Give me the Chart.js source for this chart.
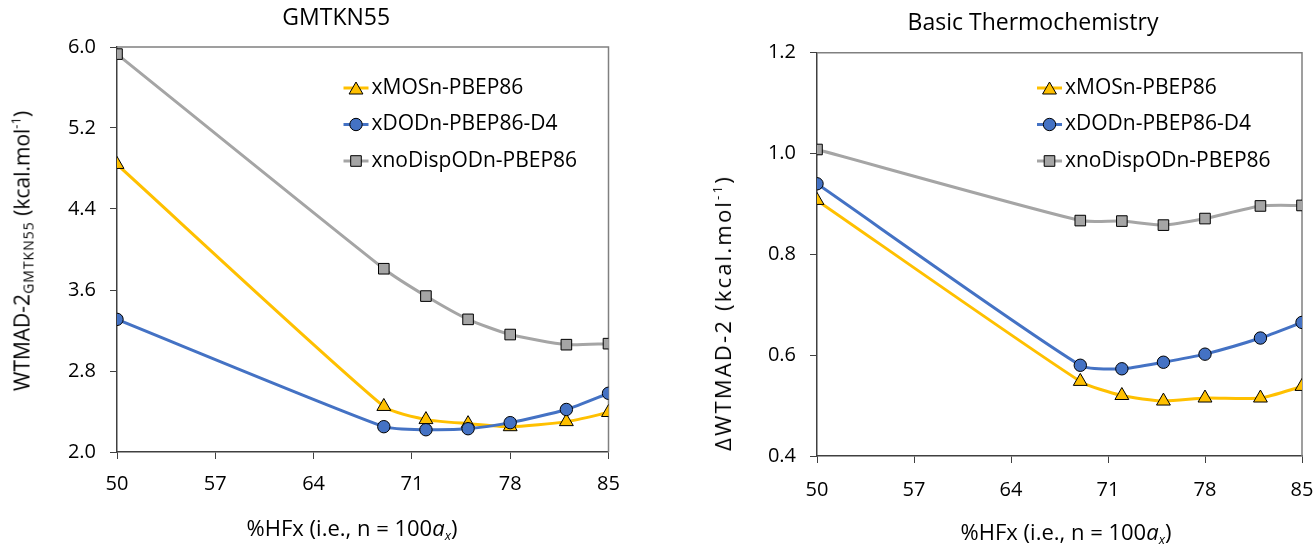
<!DOCTYPE html>
<html>
<head>
<meta charset="utf-8">
<script src="https://cdn.jsdelivr.net/npm/chart.js@4/dist/chart.umd.min.js"></script>
<style>
  html, body { margin: 0; padding: 0; background: #fff; }
  #wrap { position: relative; width: 1315px; height: 549px; overflow: hidden; font-family: "Open Sans", sans-serif; color: #000; }
  .box { position: absolute; top: 0; height: 549px; }
  .lbl { position: absolute; white-space: nowrap; font-size: 21px; line-height: 1; }
  .rot { transform: translate(-50%, -50%) rotate(-90deg); }
  .hor { transform: translate(-50%, -50%); font-size: 22px; }
  sub.s1 { font-size: 14px; letter-spacing: 1px; vertical-align: -4px; line-height: 0; }
  sup.s2 { font-size: 13px; vertical-align: 9px; line-height: 0; }
  sub.s3 { font-size: 13px; vertical-align: -4px; line-height: 0; font-style: italic; }
</style>
</head>
<body>
<div id="wrap">
  <div class="box" style="left:0;width:680px;"><canvas id="c1"></canvas></div>
  <div class="box" style="left:680px;width:635px;"><canvas id="c2"></canvas></div>
  <div class="lbl rot" style="left:22px;top:251px;">WTMAD-2<sub class="s1">GMTKN55</sub> (kcal.mol<sup class="s2">-1</sup>)</div>
  <div class="lbl rot" style="left:722px;top:313px;font-size:22px;letter-spacing:2.2px;">ΔWTMAD-2 (kcal.mol<sup class="s2">-1</sup>)</div>
  <div class="lbl hor" style="left:352px;top:527px;">%HFx (i.e., n = 100<i>a</i><sub class="s3">x</sub>)</div>
  <div class="lbl hor" style="left:1066px;top:531px;">%HFx (i.e., n = 100<i>a</i><sub class="s3">x</sub>)</div>
</div>
<script>
// ---- data ----
const hfx = [50, 69, 72, 75, 78, 82, 85];
const seriesNames = ['xMOSn-PBEP86', 'xDODn-PBEP86-D4', 'xnoDispODn-PBEP86'];

const gmtkn_xMOSn = [4.84, 2.45, 2.32, 2.28, 2.25, 2.30, 2.39];
const gmtkn_xDODn = [3.31, 2.25, 2.22, 2.23, 2.29, 2.42, 2.58];
const gmtkn_xnoDisp = [5.93, 3.81, 3.54, 3.31, 3.16, 3.06, 3.07];

const thermo_xMOSn = [0.907, 0.548, 0.520, 0.509, 0.515, 0.515, 0.538];
const thermo_xDODn = [0.940, 0.580, 0.573, 0.586, 0.602, 0.634, 0.665];
const thermo_xnoDisp = [1.008, 0.867, 0.866, 0.858, 0.871, 0.896, 0.897];

const xTicksMin = 50, xTicksMax = 85, xTickStep = 7;
const gmtknYTicks = { min: 2.0, max: 6.0, step: 0.8 };
const thermoYTicks = { min: 0.4, max: 1.2, step: 0.2 };

// ---- styles ----
const COLORS = ['#FFC000', '#4472C4', '#A5A5A5'];
const STYLES = ['triangle', 'circle', 'rect'];
const RADII = [8, 6.2, 7.5];
const ORDERS = [2, 1, 3];
const FONT = '"Open Sans", sans-serif';
const AXIS_COLOR = '#404040';

function makeDatasets(arrs) {
  return arrs.map((vals, i) => ({
    label: seriesNames[i],
    data: hfx.map((x, k) => ({ x: x, y: vals[k] })),
    borderColor: COLORS[i],
    backgroundColor: COLORS[i],
    borderWidth: 3,
    pointStyle: STYLES[i],
    pointRadius: RADII[i],
    pointHoverRadius: RADII[i],
    pointBackgroundColor: COLORS[i],
    pointBorderColor: '#000',
    pointBorderWidth: 1,
    tension: 0.2,
    order: ORDERS[i],
    fill: false
  }));
}

const framePlugin = {
  id: 'frame',
  beforeDatasetsDraw(chart) {
    const { ctx, chartArea: a } = chart;
    ctx.save();
    ctx.strokeStyle = '#808080';
    ctx.lineWidth = 1.5;
    ctx.beginPath();
    ctx.moveTo(a.left, a.top);
    ctx.lineTo(a.right, a.top);
    ctx.lineTo(a.right, a.bottom);
    ctx.stroke();
    ctx.restore();
  }
};

const legendPlugin = {
  id: 'insideLegend',
  afterDatasetsDraw(chart, args, opts) {
    const { ctx, chartArea: a } = chart;
    const x0 = a.right - opts.offsetRight;
    ctx.save();
    chart.data.datasets.forEach((ds, i) => {
      const y = opts.ys[i];
      ctx.strokeStyle = ds.borderColor;
      ctx.lineWidth = 3;
      ctx.beginPath();
      ctx.moveTo(x0, y);
      ctx.lineTo(x0 + 25, y);
      ctx.stroke();
      ctx.fillStyle = ds.pointBackgroundColor;
      ctx.strokeStyle = ds.pointBorderColor;
      ctx.lineWidth = 1;
      Chart.helpers.drawPoint(ctx, { pointStyle: ds.pointStyle, radius: ds.pointRadius, borderWidth: 1, rotation: 0 }, x0 + 12.5, y + (ds.pointStyle === 'triangle' ? 2 : 0));
      ctx.fillStyle = '#000';
      ctx.font = '21px ' + FONT;
      ctx.textBaseline = 'middle';
      ctx.textAlign = 'left';
      ctx.fillText(ds.label, x0 + 28, y);
    });
    ctx.restore();
  }
};

function makeChart(id, title, arrs, yt, cfg) {
  return new Chart(document.getElementById(id), {
    type: 'line',
    data: { datasets: makeDatasets(arrs) },
    plugins: [framePlugin, legendPlugin],
    options: {
      responsive: true,
      maintainAspectRatio: false,
      animation: false,
      events: [],
      layout: { padding: { left: cfg.padLeft, right: cfg.padRight, top: 0, bottom: 0 } },
      plugins: {
        legend: { display: false },
        tooltip: { enabled: false },
        title: {
          display: true,
          text: title,
          color: '#000',
          font: { family: FONT, size: 23, weight: 'normal', lineHeight: 1.2 },
          padding: { top: cfg.titleTop, bottom: cfg.titleBottom }
        },
        insideLegend: { offsetRight: 265, ys: [88, 124.5, 161] }
      },
      scales: {
        x: {
          type: 'linear',
          min: xTicksMin, max: xTicksMax,
          afterFit: s => { s.height = cfg.xHeight; s.paddingLeft = 0; s.paddingRight = 0; },
          ticks: { stepSize: xTickStep, color: '#000', font: { family: FONT, size: 20 }, padding: cfg.xPad, maxRotation: 0 },
          grid: { display: true, drawOnChartArea: false, drawTicks: true, tickLength: 7, color: AXIS_COLOR, lineWidth: 1 },
          border: { display: true, color: AXIS_COLOR, width: 1.5 }
        },
        y: {
          type: 'linear',
          min: yt.min, max: yt.max,
          afterFit: s => { s.width = cfg.yWidth; },
          afterBuildTicks: s => {
            const t = [];
            for (let k = 0; yt.min + k * yt.step <= yt.max + 1e-9; k++) t.push({ value: +(yt.min + k * yt.step).toFixed(3) });
            s.ticks = t;
          },
          ticks: { color: '#000', font: { family: FONT, size: 20 }, padding: 14, callback: v => Number(v).toFixed(1) },
          grid: { display: true, drawOnChartArea: false, drawTicks: true, tickLength: 7, color: AXIS_COLOR, lineWidth: 1 },
          border: { display: true, color: AXIS_COLOR, width: 1.5 }
        }
      }
    }
  });
}

makeChart('c1', 'GMTKN55', [gmtkn_xMOSn, gmtkn_xDODn, gmtkn_xnoDisp], gmtknYTicks,
  { padLeft: 64, padRight: 71.5, titleTop: 5, titleBottom: 14.4, xHeight: 97, yWidth: 53, xPad: 13 });
makeChart('c2', 'Basic Thermochemistry', [thermo_xMOSn, thermo_xDODn, thermo_xnoDisp], thermoYTicks,
  { padLeft: 84, padRight: 13, titleTop: 10, titleBottom: 15.1, xHeight: 93, yWidth: 53, xPad: 15 });
</script>
</body>
</html>
